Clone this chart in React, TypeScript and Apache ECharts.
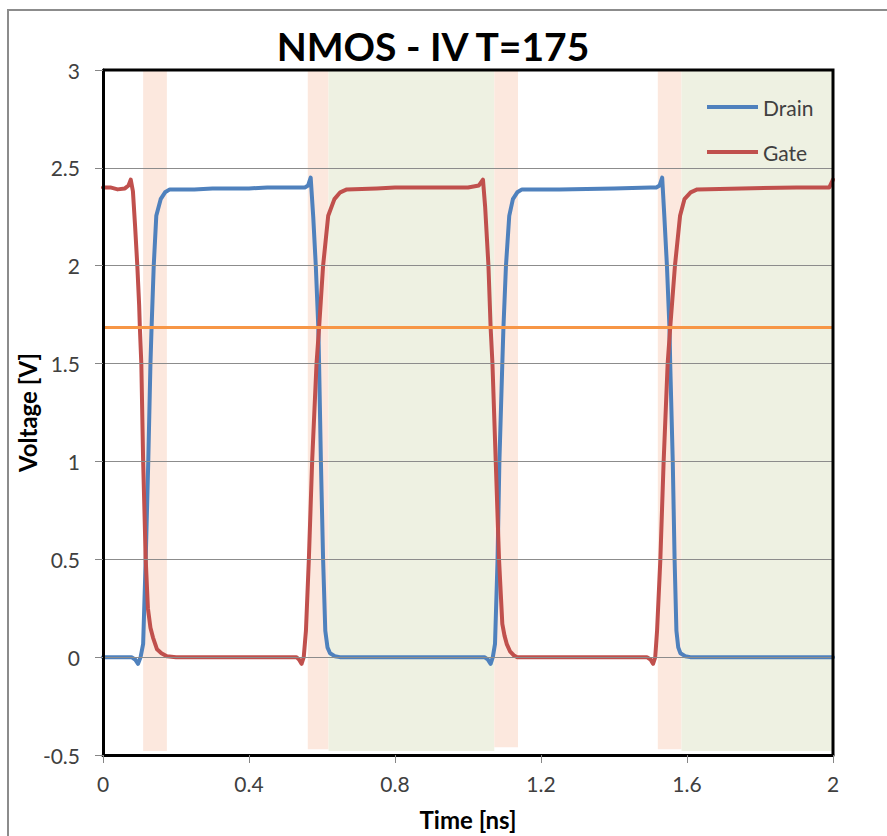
import React, { useEffect, useRef } from "react";
import * as echarts from "echarts";

const titleText = "NMOS - IV T=175";
const xAxisName = "Time [ns]";
const yAxisName = "Voltage [V]";
const seriesNames = ["Drain", "Gate"];

const xTicks = [0, 0.4, 0.8, 1.2, 1.6, 2];
const yTicks = [-0.5, 0, 0.5, 1, 1.5, 2, 2.5, 3];

const drain: [number, number][] = [
  [0, 0], [0.04, 0], [0.078, 0], [0.088, -0.012], [0.096, -0.034], [0.103, 0.0], [0.11, 0.068],
  [0.117, 0.5], [0.124, 1.0], [0.13, 1.5], [0.133, 1.68], [0.139, 2.0], [0.146, 2.255],
  [0.158, 2.34], [0.17, 2.375], [0.183, 2.39], [0.25, 2.39], [0.3, 2.395], [0.4, 2.395],
  [0.45, 2.4], [0.5, 2.4], [0.553, 2.4], [0.562, 2.41], [0.569, 2.45], [0.576, 2.25],
  [0.583, 2.0], [0.59, 1.68], [0.592, 1.5], [0.597, 1.0], [0.603, 0.5], [0.609, 0.135],
  [0.615, 0.05], [0.622, 0.02], [0.635, 0.005], [0.649, 0], [0.8, 0], [1.0, 0], [1.045, 0],
  [1.054, -0.012], [1.062, -0.034], [1.068, 0.0], [1.074, 0.068], [1.081, 0.5], [1.086, 1.0],
  [1.094, 1.5], [1.097, 1.68], [1.104, 2.0], [1.113, 2.255], [1.123, 2.34], [1.135, 2.375],
  [1.148, 2.39], [1.25, 2.39], [1.4, 2.395], [1.5, 2.4], [1.516, 2.4], [1.525, 2.41],
  [1.532, 2.45], [1.538, 2.25], [1.545, 2.0], [1.552, 1.68], [1.554, 1.5], [1.561, 1.0],
  [1.566, 0.5], [1.571, 0.135], [1.576, 0.05], [1.582, 0.02], [1.595, 0.005], [1.609, 0],
  [1.8, 0], [2.0, 0],
];

const gate: [number, number][] = [
  [0, 2.4], [0.02, 2.4], [0.04, 2.39], [0.06, 2.395], [0.07, 2.41], [0.076, 2.44],
  [0.082, 2.38], [0.088, 2.2], [0.094, 2.0], [0.099, 1.8], [0.101, 1.684], [0.105, 1.5],
  [0.11, 1.0], [0.117, 0.5], [0.123, 0.25], [0.13, 0.15], [0.137, 0.1], [0.148, 0.04],
  [0.16, 0.02], [0.175, 0.005], [0.2, 0], [0.4, 0], [0.53, 0], [0.537, -0.012],
  [0.544, -0.034], [0.55, 0.0], [0.556, 0.135], [0.564, 0.5], [0.573, 1.0], [0.585, 1.5],
  [0.592, 1.684], [0.603, 2.0], [0.617, 2.255], [0.634, 2.34], [0.65, 2.375], [0.668, 2.39],
  [0.75, 2.395], [0.8, 2.4], [0.9, 2.4], [1.0, 2.4], [1.03, 2.41], [1.041, 2.44],
  [1.047, 2.3], [1.056, 2.0], [1.062, 1.684], [1.067, 1.5], [1.076, 1.0], [1.085, 0.5],
  [1.094, 0.17], [1.1, 0.11], [1.106, 0.068], [1.115, 0.03], [1.125, 0.01], [1.134, 0],
  [1.3, 0], [1.49, 0], [1.5, -0.012], [1.507, -0.034], [1.513, 0.0], [1.518, 0.135],
  [1.527, 0.5], [1.536, 1.0], [1.547, 1.5], [1.554, 1.684], [1.567, 2.0], [1.581, 2.255],
  [1.593, 2.34], [1.61, 2.375], [1.628, 2.39], [1.75, 2.395], [1.9, 2.4], [1.99, 2.4],
  [2.0, 2.44],
];

const thresholdValue = 1.684;

const bandStart = [0.11, 0.561, 0.618, 1.072, 1.52, 1.585];
const bandEnd = [0.175, 0.618, 1.072, 1.137, 1.585, 2.0];
const bandTop = [3, 3, 3, 3, 3, 3];
const bandBottom = [-0.48, -0.47, -0.48, -0.46, -0.47, -0.48];
const bandKind = [0, 0, 1, 0, 0, 1]; // 0 = peach, 1 = green

const FONT = "Lato, 'Noto Sans', sans-serif";
const BAND_COLORS = ["#FCE8DE", "#EEF1E2"];

export default function App() {
  const ref = useRef<HTMLDivElement>(null);

  useEffect(() => {
    document.body.style.margin = "0";
    document.body.style.background = "#ffffff";
    if (!ref.current) return;
    const chart = echarts.init(ref.current, undefined, { renderer: "svg" });

    const bandData = bandStart.map((s, i) => [s, bandEnd[i], bandTop[i], bandBottom[i], bandKind[i]]);
    const xMin = xTicks[0];
    const xMax = xTicks[xTicks.length - 1];
    const yMin = yTicks[0];
    const yMax = yTicks[yTicks.length - 1];

    chart.setOption({
      animation: false,
      backgroundColor: "#ffffff",
      textStyle: { fontFamily: FONT },
      title: {
        text: titleText,
        left: 428,
        textAlign: "center",
        top: 21,
        textStyle: { fontFamily: FONT, fontSize: 39, fontWeight: "bold", color: "#000" },
      },
      graphic: [
        {
          id: "outerFrame",
          type: "rect",
          shape: { x: 8, y: 10, width: 1000, height: 1000 },
          style: { fill: "none", stroke: "#8c8c8c", lineWidth: 2 },
          silent: true,
          z: -10,
        },
      ],
      legend: {
        data: seriesNames,
        orient: "vertical",
        left: 702,
        top: 91,
        icon: "rect",
        itemWidth: 51,
        itemHeight: 4,
        itemGap: 23,
        textStyle: { fontFamily: FONT, fontSize: 21, color: "#404040", lineHeight: 22 },
      },
      grid: {
        left: 103,
        right: 54,
        top: 70,
        bottom: 80,
        show: false,
      },
      xAxis: {
        type: "value",
        min: xMin,
        max: xMax,
        interval: 0.4,
        name: xAxisName,
        nameLocation: "middle",
        nameGap: 52,
        nameMoveOverlap: false,
        nameTextStyle: { fontFamily: FONT, fontSize: 24, fontWeight: "bold", color: "#000" },
        axisLine: { show: true, onZero: false, lineStyle: { color: "#000", width: 3 } },
        axisTick: { show: true, length: 8, lineStyle: { color: "#868686", width: 1 } },
        axisLabel: {
          margin: 18,
          fontFamily: FONT,
          fontSize: 21,
          color: "#404040",
          formatter: (v: number) => String(xTicks.find((t) => Math.abs(t - v) < 1e-9) ?? v),
        },
        splitLine: { show: false },
        z: 5,
      },
      yAxis: {
        type: "value",
        min: yMin,
        max: yMax,
        interval: 0.5,
        name: yAxisName,
        nameLocation: "middle",
        nameGap: 64,
        nameMoveOverlap: false,
        nameRotate: 90,
        nameTextStyle: { fontFamily: FONT, fontSize: 24, fontWeight: "bold", color: "#000" },
        axisLine: { show: true, lineStyle: { color: "#000", width: 3 } },
        axisTick: { show: true, length: 8, lineStyle: { color: "#868686", width: 1 } },
        axisLabel: {
          margin: 23,
          fontFamily: FONT,
          fontSize: 21,
          color: "#404040",
          formatter: (v: number) => String(yTicks.find((t) => Math.abs(t - v) < 1e-9) ?? v),
        },
        splitLine: { show: true, lineStyle: { color: "#8c8c8c", width: 1 } },
        z: 5,
      },
      series: [
        {
          type: "custom",
          name: "bands",
          z: -1,
          silent: true,
          encode: { x: [0, 1], y: [2, 3] },
          data: bandData,
          renderItem: (params: any, api: any) => {
            const p1 = api.coord([api.value(0), api.value(2)]);
            const p2 = api.coord([api.value(1), api.value(3)]);
            return {
              type: "rect",
              shape: { x: p1[0], y: p1[1], width: p2[0] - p1[0], height: p2[1] - p1[1] },
              style: { fill: BAND_COLORS[api.value(4)] },
            };
          },
        },
        {
          type: "line",
          name: seriesNames[0],
          data: drain,
          showSymbol: false,
          smooth: false,
          z: 3,
          lineStyle: { color: "#4F81BD", width: 4, cap: "round", join: "round" },
          itemStyle: { color: "#4F81BD" },
        },
        {
          type: "line",
          name: seriesNames[1],
          data: gate,
          showSymbol: false,
          smooth: false,
          z: 3,
          lineStyle: { color: "#C0504D", width: 4, cap: "round", join: "round" },
          itemStyle: { color: "#C0504D" },
        },
        {
          type: "line",
          name: "threshold",
          data: [
            [xMin, thresholdValue],
            [xMax, thresholdValue],
          ],
          showSymbol: false,
          z: 4,
          lineStyle: { color: "#F79646", width: 3 },
          itemStyle: { color: "#F79646" },
        },
        {
          type: "line",
          name: "plotBorder",
          clip: false,
          silent: true,
          data: [
            [xMin, yMax],
            [xMax, yMax],
            [xMax, yMin],
          ],
          showSymbol: false,
          z: 8,
          lineStyle: { color: "#000000", width: 3, join: "miter" },
          itemStyle: { color: "#000000" },
        },
      ],
    });

    return () => chart.dispose();
  }, []);

  return <div ref={ref} style={{ width: 887, height: 836 }} />;
}
